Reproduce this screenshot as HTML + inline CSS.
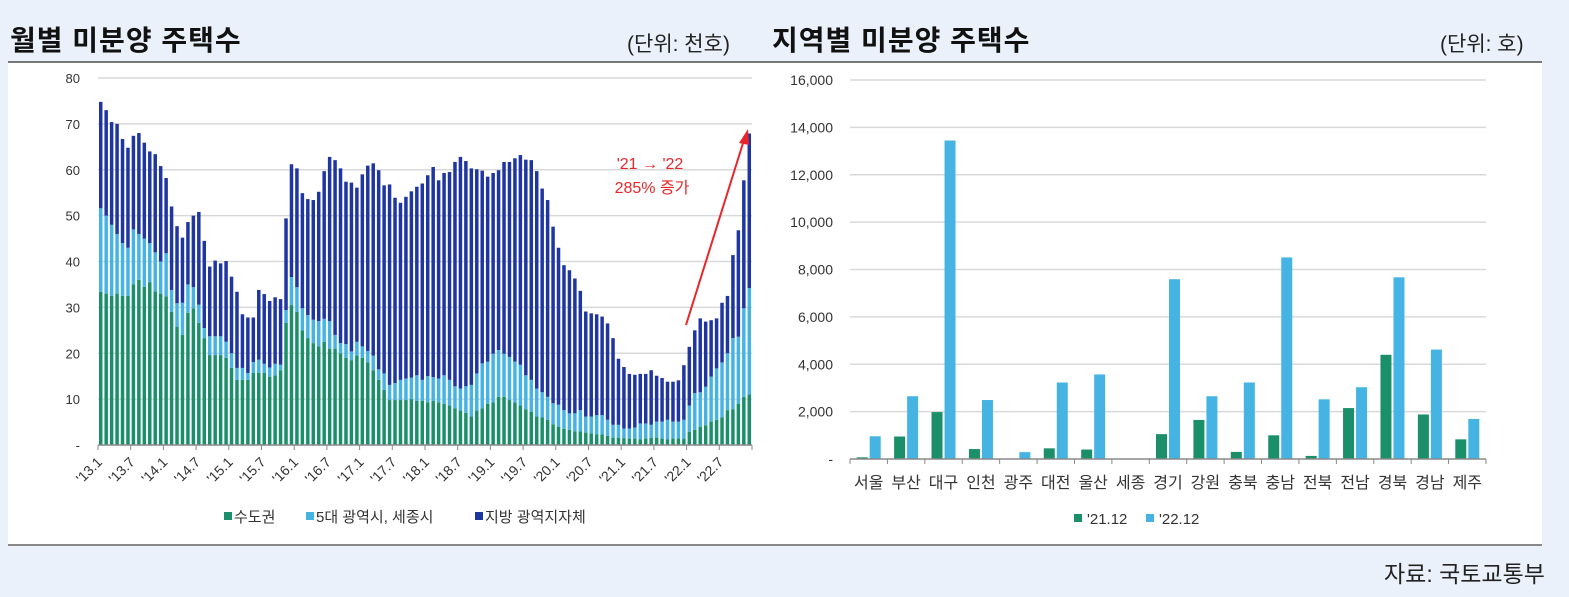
<!DOCTYPE html>
<html><head><meta charset="utf-8">
<style>
body{margin:0;width:1569px;height:597px;background:#eaf1fa;overflow:hidden;font-family:"Liberation Sans","Noto Sans CJK KR",sans-serif;}
.t{position:absolute;font-weight:bold;font-size:28px;color:#111;letter-spacing:1px;}
.u{position:absolute;font-size:21px;color:#222;}
#panel{position:absolute;left:8px;top:61px;width:1534px;height:481px;background:#fff;border-top:2px solid #777;border-bottom:2px solid #888;}
svg{position:absolute;left:0;top:0;}
</style></head><body>
<div class="t" style="left:10px;top:19px">월별 미분양 주택수</div>
<div class="u" style="left:627px;top:28px">(단위: 천호)</div>
<div class="t" style="left:772px;top:19px">지역별 미분양 주택수</div>
<div class="u" style="left:1440px;top:28px">(단위: 호)</div>
<div id="panel"></div>
<div class="u" style="left:1384px;top:555px;font-size:23px">자료: 국토교통부</div>
<svg id="s" width="1569" height="597"></svg>
<script>
const metro=[33.4,33,32.5,33,32.5,32.5,35,36,34.5,35.5,33.5,33,32.4,29,25.8,24,28.8,29.8,26.6,23.3,19.6,19.6,19.6,19,16.8,14.2,14.2,14.2,15.7,15.7,15.7,14.9,15.2,16.3,26.6,30.5,29,25,23.3,22.2,21.5,22.5,21,21,20,19,18.5,19.5,19,18,16.3,14.2,12,9.8,9.8,9.8,9.8,10,9.6,9.6,9.3,9.6,9.3,9,8.6,8,7.5,7,6.2,7.5,8,9,9.3,10.5,10.5,9.8,9.3,8.6,7.8,7.2,6.2,6,5.5,4.5,4,3.5,3.3,3,3,2.7,2.5,2.3,2.3,2,1.6,1.6,1.5,1.4,1.4,1.2,1.4,1.6,1.6,1.4,1.2,1.4,1.4,1.4,2.9,3.3,4,4.3,5.1,5.5,6,7.6,7.8,9,10.5,11];
const bigCities=[18.2,17,15.5,13,11.5,10.5,12,10,10.5,8.5,8.5,7,9.4,4.8,5.1,7,6.2,4.6,4,2.2,4.1,4.1,4.1,3.5,3.2,2.6,2.6,1.5,2.4,2.9,2,2,2.5,1.2,2.8,6.1,5.4,4.8,5,5.1,5.5,5,6,3,2.2,3,1.9,3,2.5,2.5,3.2,2.3,3.6,3.3,3.7,4.4,4.7,4.7,5.6,4.6,5.7,5.2,5.2,6.2,5.6,4.8,4.8,5.8,6.9,8.1,9.8,9.2,10.6,10.2,9.4,9.4,8.9,8.9,7.4,7,6.1,5.5,5,4.6,4.8,4.1,3.6,3.9,4.6,3.5,3.7,4.2,4.2,3.5,2.8,2.8,2.1,2.2,2.4,3.5,3.3,2.8,3.5,3.7,4.3,3.7,3.7,4.1,5.7,8,7.5,8.4,9.8,11.2,12,12.4,15.5,14.6,19.3,23.2];
const local=[23.2,23,22.4,24,22.7,21.8,20.4,22,20.9,20,21.4,20.8,16.4,18.2,16.8,14.2,13.6,15.6,20.2,19,15.2,16.5,15.9,17.6,16.7,16.6,11.7,12.1,9.7,15.2,15.2,14.5,14.5,14.3,20,24.6,25.9,25.1,25.3,26.1,28.2,32.2,35.8,38.1,38.1,35.4,36.8,33.6,37.5,40.4,41.9,43.4,41,43.7,40.4,38.6,39.6,40.6,41.1,42.8,43.8,45.8,43.2,44.1,45.3,48.9,50.5,49.1,47.2,44.5,42,40.3,39.4,39.2,41.8,42.5,44.3,45.7,47,47.9,47.4,44.4,42.9,38.5,34.2,31.6,31.2,29.4,26,22.9,22.5,22,21.5,21,18.9,14.4,13.4,11.9,11.5,10.8,10.8,11.9,10,9.5,8.3,8.7,9,11.9,12.8,13.7,16.1,14.2,12.3,10.9,13,12.5,18.1,23.2,27.9,33.7];
const monthTicks=["'13.1","'13.7","'14.1","'14.7","'15.1","'15.7","'16.1","'16.7","'17.1","'17.7","'18.1","'18.7","'19.1","'19.7","'20.1","'20.7","'21.1","'21.7","'22.1","'22.7"];
const leftYTicks=[0,10,20,30,40,50,60,70,80];
const regions=["서울","부산","대구","인천","광주","대전","울산","세종","경기","강원","충북","충남","전북","전남","경북","경남","제주"];
const dec21=[70,950,1980,420,0,450,400,0,1050,1650,300,1000,130,2150,4400,1880,830];
const dec22=[960,2650,13445,2490,290,3230,3570,0,7590,2650,3230,8510,2520,3030,7670,4620,1690];
const rightYTicks=[0,2000,4000,6000,8000,10000,12000,14000,16000];

const S=document.getElementById('s');const NS='http://www.w3.org/2000/svg';
function mk(tag,at,name,txt){const e=document.createElementNS(NS,tag);for(const k in at)e.setAttribute(k,at[k]);


if(txt!==undefined)e.textContent=txt;S.appendChild(e);return e;}
// Left chart
const L={x0:98,x1:752,y0:445,y1:78};
const ly=v=>L.y0-(v/80)*(L.y0-L.y1);
const bw=(L.x1-L.x0)/120;
const lx=i=>L.x0+bw*i+bw/2;
leftYTicks.forEach(t=>{
 if(t>0)mk('line',{x1:L.x0,x2:L.x1,y1:ly(t),y2:ly(t),stroke:'#d9d9d9','stroke-width':1.5},'left-gridline');
 mk('text',{x:80,y:ly(t)+5,'text-anchor':'end','font-size':13,fill:'#333'},'left-y-tick',t===0?'-':String(t));
});
const cols=['#1a8f6a','#46b4e3','#1f36a0'];
for(let i=0;i<120;i++){
 let base=0;[metro[i],bigCities[i],local[i]].forEach((v,k)=>{
  mk('rect',{x:lx(i)-bw*0.32,width:bw*0.64,y:ly(base+v),height:ly(base)-ly(base+v),fill:cols[k]},['bar-metro','bar-big-cities','bar-local'][k]);
  base+=v;});
}
mk('line',{x1:L.x0,x2:L.x1,y1:L.y0,y2:L.y0,stroke:'#888','stroke-width':1.5},'left-x-axis');
monthTicks.forEach((t,j)=>{const x=L.x0+bw*6*j;
 mk('line',{x1:x,x2:x,y1:L.y0,y2:L.y0+5,stroke:'#888'},'left-x-tick');
 mk('text',{x:x+5,y:L.y0+18,'text-anchor':'end','font-size':14,fill:'#333',transform:`rotate(-45 ${x+5} ${L.y0+18})`},'left-x-label',t);});
mk('line',{x1:L.x1,x2:L.x1,y1:L.y0,y2:L.y0+5,stroke:'#888'},'left-x-tick');
// annotation arrow
mk('line',{x1:686,y1:325,x2:744,y2:140,stroke:'#e8262a','stroke-width':2},'growth-arrow');
mk('polygon',{points:'748,129 739,143 749,145',fill:'#e8262a'},'growth-arrowhead');
mk('text',{x:650,y:169,'text-anchor':'middle','font-size':16,fill:'#e8262a'},'growth-annotation-line1',"'21 → '22");
mk('text',{x:652,y:193,'text-anchor':'middle','font-size':16,fill:'#e8262a'},'growth-annotation-line2',"285% 증가");
// left legend
[['수도권',224],['5대 광역시, 세종시',306],['지방 광역지자체',475]].forEach((l,k)=>{
 mk('rect',{x:l[1],y:512,width:8,height:8,fill:cols[k]},'legend-swatch');
 mk('text',{x:l[1]+10,y:522,'font-size':15,fill:'#333'},'legend-entry',l[0]);});
// Right chart
const R={x0:850,x1:1486,y0:459,y1:80};
const ry=v=>R.y0-(v/16000)*(R.y0-R.y1);
const cw=(R.x1-R.x0)/regions.length;
rightYTicks.forEach(t=>{
 if(t>0)mk('line',{x1:R.x0,x2:R.x1,y1:ry(t),y2:ry(t),stroke:'#d9d9d9','stroke-width':1.5},'right-gridline');
 mk('text',{x:833,y:ry(t)+5,'text-anchor':'end','font-size':14,fill:'#333'},'right-y-tick',t===0?'-':t.toLocaleString('en-US'));
});
regions.forEach((r,i)=>{const c=R.x0+cw*i+cw/2;
 mk('rect',{x:c-12,width:11,y:ry(dec21[i]),height:R.y0-ry(dec21[i]),fill:'#1a8f6a'},'bar-2021-12');
 mk('rect',{x:c+1,width:11,y:ry(dec22[i]),height:R.y0-ry(dec22[i]),fill:'#46b4e3'},'bar-2022-12');
 mk('text',{x:c,y:488,'text-anchor':'middle','font-size':16,fill:'#333'},'right-x-label',r);
});
mk('line',{x1:R.x0,x2:R.x1,y1:R.y0,y2:R.y0,stroke:'#888','stroke-width':1.5},'right-x-axis');
for(let i=0;i<=regions.length;i++){const x=R.x0+cw*i;mk('line',{x1:x,x2:x,y1:R.y0,y2:R.y0+5,stroke:'#888'},'right-x-tick');}
mk('rect',{x:1074,y:514,width:8,height:8,fill:'#1a8f6a'},'legend-swatch');
mk('text',{x:1087,y:524,'font-size':15,fill:'#333'},'legend-entry',"'21.12");
mk('rect',{x:1146,y:514,width:8,height:8,fill:'#46b4e3'},'legend-swatch');
mk('text',{x:1159,y:524,'font-size':15,fill:'#333'},'legend-entry',"'22.12");
</script>
</body></html>
